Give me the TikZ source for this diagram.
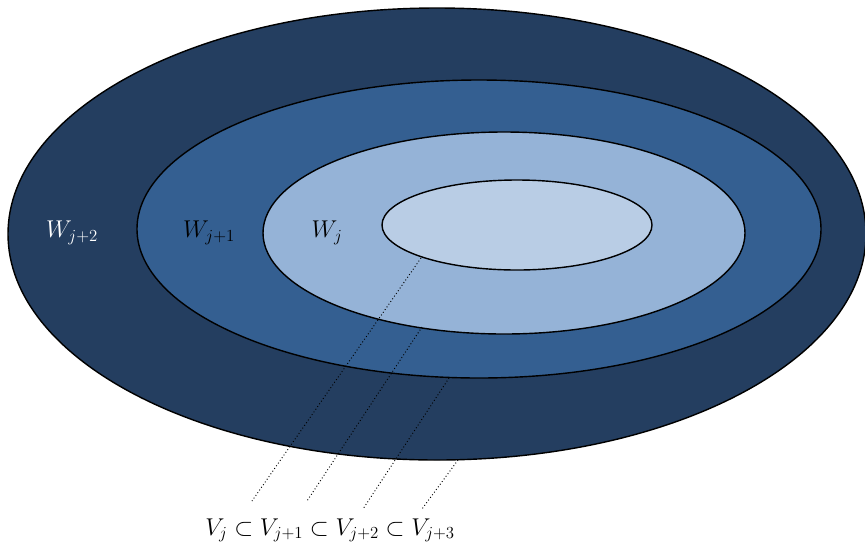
\documentclass[tikz,border=0pt]{standalone}
\usepackage{tikz}
\definecolor{ringfour}{RGB}{36,62,96}
\definecolor{ringthree}{RGB}{52,95,145}
\definecolor{ringtwo}{RGB}{149,179,215}
\definecolor{ringone}{RGB}{185,205,229}
\tikzset{
	ring/.style={draw=black, line width=1.2pt},
	lbl/.style={font=\fontsize{22}{26}\selectfont},
	guide/.style={dotted, line width=0.8pt}
}
\begin{document}
\begin{tikzpicture}[x=0.03cm, y=-0.03cm]
	\useasboundingbox (0,0) rectangle (865,547);
	% nested spaces
	\filldraw[ring, fill=ringfour] (437,234) ellipse (429 and 226);
	\filldraw[ring, fill=ringthree] (479,229) ellipse (342 and 149);
	\filldraw[ring, fill=ringtwo] (504,233) ellipse (241 and 101);
	\filldraw[ring, fill=ringone] (517,225) ellipse (135 and 45);
	% labels
	\node[lbl, text=white] (w2) at (72,233) {$W_{j+2}$};
	\node[lbl] (w1) at (209,233) {$W_{j+1}$};
	\node[lbl] (w0) at (327,233) {$W_j$};
	\node[lbl, anchor=base] (chain) at (330,535) {$V_j \subset V_{j+1} \subset V_{j+2} \subset V_{j+3}$};
	% guide lines
	\coordinate (a0) at (421,258);
	\coordinate (a1) at (422,327);
	\coordinate (a2) at (449,378);
	\coordinate (a3) at (458,460);
	\coordinate (b0) at (252,501);
	\coordinate (b1) at (307,501);
	\coordinate (b2) at (363,509);
	\coordinate (b3) at (422,509);
	\foreach \i in {0,...,3}
		\draw[guide] (a\i) -- (b\i);
\end{tikzpicture}
\end{document}
